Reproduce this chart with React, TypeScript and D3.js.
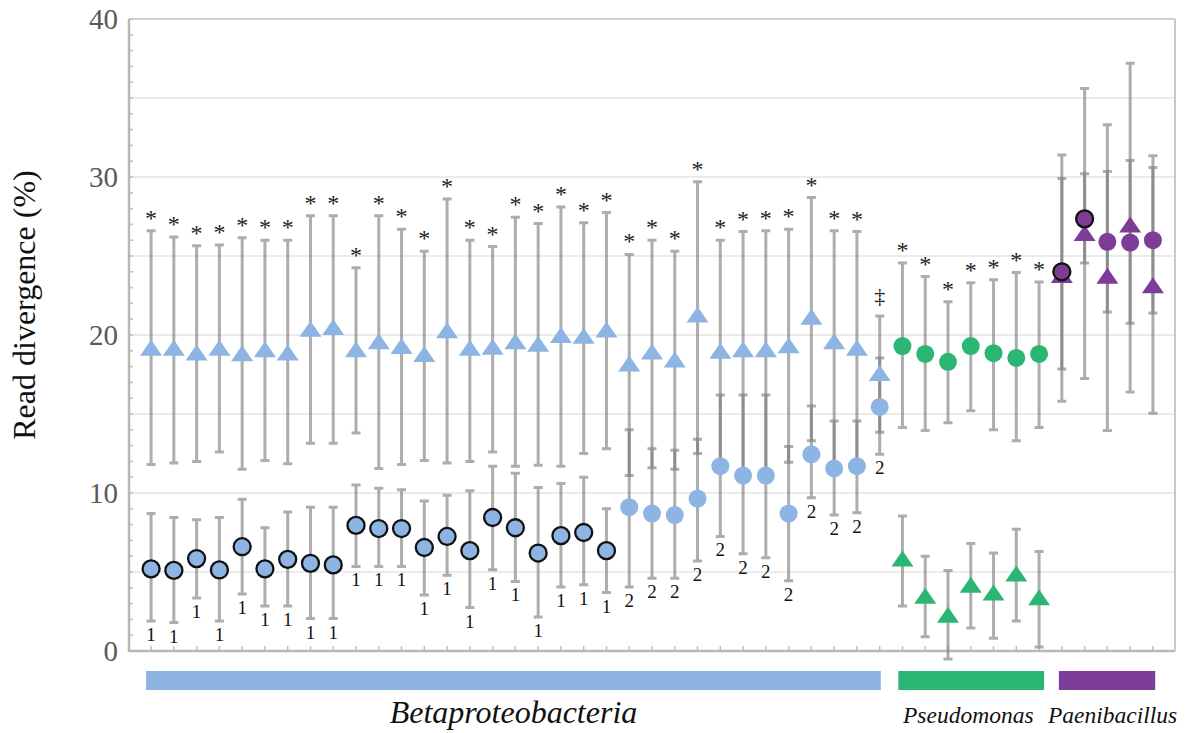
import React from "react";
import * as d3 from "d3";

// ---------- data ----------
// Betaproteobacteria (33 strains): triangle = upper series, circle = lower series
const betaTriMean = [19.2,19.2,18.9,19.2,18.85,19.1,18.9,20.4,20.5,19.1,19.6,19.3,18.8,20.3,19.2,19.25,19.6,19.45,20.0,19.95,20.35,18.2,18.95,18.45,21.3,19.0,19.1,19.1,19.35,21.15,19.6,19.2,17.6];
const betaTriHi = [26.6,26.2,25.65,25.7,26.15,26.0,26.0,27.55,27.55,24.25,27.55,26.7,25.3,28.6,26.0,25.6,27.45,27.05,28.1,27.1,27.75,25.1,26.0,25.3,29.7,26.0,26.55,26.6,26.7,28.7,26.6,26.55,21.2];
const betaTriLo = [11.8,11.9,12.0,12.6,11.5,12.05,11.85,13.15,13.15,13.8,11.55,11.8,12.05,11.9,12.0,12.6,11.7,11.75,11.7,12.5,12.8,11.1,11.6,11.5,12.5,11.8,11.2,11.2,11.95,13.3,11.8,11.9,13.85];
const betaCirMean = [5.2,5.1,5.85,5.13,6.6,5.2,5.8,5.55,5.45,7.95,7.75,7.75,6.55,7.25,6.35,8.45,7.8,6.2,7.3,7.5,6.35,9.1,8.7,8.6,9.65,11.7,11.1,11.1,8.7,12.45,11.55,11.7,15.45];
const betaCirHi = [8.7,8.45,8.3,8.45,9.6,7.8,8.8,9.1,9.1,10.5,10.3,10.2,9.5,9.85,10.15,11.7,11.25,10.35,10.6,11.0,9.0,14.0,12.8,12.7,13.4,16.2,16.2,16.2,12.95,15.5,14.55,14.55,18.55];
const betaCirLo = [1.9,1.8,3.35,1.9,3.6,2.85,2.85,2.05,2.05,5.35,5.35,5.35,3.55,4.8,2.75,5.15,4.4,2.15,4.05,4.2,3.7,4.05,4.6,4.6,5.7,7.25,6.15,5.9,4.45,9.7,8.6,8.75,12.45];
const betaTopMark = ["*","*","*","*","*","*","*","*","*","*","*","*","*","*","*","*","*","*","*","*","*","*","*","*","*","*","*","*","*","*","*","*","‡"];
const betaBottomMark = ["1","1","1","1","1","1","1","1","1","1","1","1","1","1","1","1","1","1","1","1","1","2","2","2","2","2","2","2","2","2","2","2","2"];
const betaOutlined = [true,true,true,true,true,true,true,true,true,true,true,true,true,true,true,true,true,true,true,true,true,false,false,false,false,false,false,false,false,false,false,false,false];

// Pseudomonas (7 strains): circle = upper series, triangle = lower series
const pseuCirMean = [19.3,18.8,18.3,19.3,18.85,18.55,18.8];
const pseuCirHi = [24.55,23.7,22.1,23.3,23.5,23.95,23.35];
const pseuCirLo = [14.15,13.95,14.45,15.2,14.0,13.3,14.15];
const pseuTriMean = [5.85,3.5,2.3,4.2,3.7,4.9,3.4];
const pseuTriHi = [8.55,6.0,5.1,6.8,6.2,7.7,6.3];
const pseuTriLo = [2.85,0.9,-0.5,1.45,0.8,1.9,0.25];
const pseuTopMark = ["*","*","*","*","*","*","*"];

// Paenibacillus (5 strains)
const paenCirMean = [24.0,27.35,25.9,25.85,26.0];
const paenCirHi = [31.4,35.6,33.3,37.2,31.35];
const paenCirLo = [17.85,24.55,21.45,16.4,21.4];
const paenTriMean = [23.8,26.45,23.75,27.0,23.15];
const paenTriHi = [29.9,30.2,30.35,31.05,30.6];
const paenTriLo = [15.8,17.25,13.95,20.75,15.05];
const paenOutlined = [true,true,false,false,false];

const yTicks = [0, 10, 20, 30, 40];
const groupNames = ["Betaproteobacteria", "Pseudomonas", "Paenibacillus"];

// ---------- colours ----------
const BLUE = "#8db4e2";
const GREEN = "#2bb673";
const PURPLE = "#7d3c98";

type Pt = { i: number; mean: number; hi: number; lo: number; color: string; shape: "tri" | "cir"; outlined: boolean };

const SERIF = "'Liberation Serif', 'Times New Roman', 'DejaVu Serif', serif";

export default function App() {
  const W = 1187, H = 733;
  const left = 129, right = 1175, top = 19, bottom = 651;
  const nBeta = betaTriMean.length, nPseu = pseuCirMean.length, nPaen = paenCirMean.length;
  const n = nBeta + nPseu + nPaen;
  const x = d3.scalePoint<number>().domain(d3.range(n)).range([left, right]).padding(0.97);
  const y = d3.scaleLinear().domain([0, 40]).range([bottom, top]);

  const pts: Pt[] = [];
  betaTriMean.forEach((m, k) => pts.push({ i: k, mean: m, hi: betaTriHi[k], lo: betaTriLo[k], color: BLUE, shape: "tri", outlined: false }));
  betaCirMean.forEach((m, k) => pts.push({ i: k, mean: m, hi: betaCirHi[k], lo: betaCirLo[k], color: BLUE, shape: "cir", outlined: betaOutlined[k] }));
  pseuCirMean.forEach((m, k) => pts.push({ i: nBeta + k, mean: m, hi: pseuCirHi[k], lo: pseuCirLo[k], color: GREEN, shape: "cir", outlined: false }));
  pseuTriMean.forEach((m, k) => pts.push({ i: nBeta + k, mean: m, hi: pseuTriHi[k], lo: pseuTriLo[k], color: GREEN, shape: "tri", outlined: false }));
  paenTriMean.forEach((m, k) => pts.push({ i: nBeta + nPseu + k, mean: m, hi: paenTriHi[k], lo: paenTriLo[k], color: PURPLE, shape: "tri", outlined: false }));
  paenCirMean.forEach((m, k) => pts.push({ i: nBeta + nPseu + k, mean: m, hi: paenCirHi[k], lo: paenCirLo[k], color: PURPLE, shape: "cir", outlined: paenOutlined[k] }));

  const capW = 4.5;
  const errPath = (p: Pt) => {
    const cx = x(p.i)!;
    const y1 = y(p.hi), y2 = y(p.lo);
    return `M${cx},${y1}V${y2}M${cx - capW},${y1}H${cx + capW}M${cx - capW},${y2}H${cx + capW}`;
  };
  const triPath = (cx: number, cy: number) => {
    const hw = 11, hh = 8;
    return `M${cx},${cy - hh}L${cx + hw},${cy + hh}L${cx - hw},${cy + hh}Z`;
  };

  const gridVals = d3.range(5, 40, 5);
  const minorVals = d3.range(0, 41, 1);

  const topMarks = [
    ...betaTopMark.map((t, k) => ({ i: k, t, v: betaTriHi[k] })),
    ...pseuTopMark.map((t, k) => ({ i: nBeta + k, t, v: pseuCirHi[k] })),
  ];
  const bottomMarks = betaBottomMark.map((t, k) => ({ i: k, t, v: betaCirLo[k] }));

  const step = x.step();
  const bands = [
    { name: groupNames[0], x0: x(0)! - 0.22 * step, x1: x(nBeta - 1)! + 0.05 * step, color: BLUE },
    { name: groupNames[1], x0: x(nBeta)! - 0.18 * step, x1: x(nBeta + nPseu - 1)! + 0.22 * step, color: GREEN },
    { name: groupNames[2], x0: x(nBeta + nPseu)! - 0.13 * step, x1: x(n - 1)! + 0.1 * step, color: PURPLE },
  ];

  const tStyle = { fontFamily: SERIF };

  return (
    <svg width={W} height={H} style={{ position: "absolute", left: 0, top: 0, background: "#fff", fontFamily: SERIF }}>
      {/* gridlines */}
      {gridVals.map((v) => (
        <line key={"g" + v} x1={left} x2={right} y1={y(v)} y2={y(v)} stroke="#ebebeb" strokeWidth={2} />
      ))}
      {/* frame */}
      <line x1={left} x2={right} y1={top} y2={top} stroke="#d0d0d0" strokeWidth={2} />
      <line x1={right} x2={right} y1={top} y2={bottom} stroke="#c8c8c8" strokeWidth={2} />
      {/* minor y ticks */}
      {minorVals.map((v) => (
        <line key={"m" + v} x1={left} x2={left + 4} y1={y(v)} y2={y(v)} stroke="#c0c0c0" strokeWidth={1.5} />
      ))}
      {/* x ticks */}
      {d3.range(n).map((i) => (
        <line key={"xt" + i} x1={x(i)!} x2={x(i)!} y1={bottom} y2={bottom - 5} stroke="#c0c0c0" strokeWidth={1.5} />
      ))}
      <line x1={left} x2={left} y1={top} y2={bottom + 1} stroke="#b8b8b8" strokeWidth={2.5} />
      <line x1={left} x2={right} y1={bottom} y2={bottom} stroke="#b8b8b8" strokeWidth={2.5} />

      {/* y tick labels */}
      {yTicks.map((v) => (
        <text key={"yl" + v} x={118} y={y(v)} dy="0.35em" textAnchor="end" fontSize={29} fill="#595959" style={tStyle}>
          {v}
        </text>
      ))}
      <text transform={`translate(35,305) rotate(-90)`} textAnchor="middle" fontSize={32} fill="#111" style={tStyle}>
        Read divergence (%)
      </text>

      {/* error bars */}
      {pts.map((p, k) => (
        <path key={"e" + k} d={errPath(p)} stroke="#7a7a7a" strokeOpacity={0.62} strokeWidth={3} fill="none" />
      ))}
      {/* markers: triangles first, then circles */}
      {pts.filter((p) => p.shape === "tri").map((p, k) => (
        <path key={"t" + k} d={triPath(x(p.i)!, y(p.mean))} fill={p.color} />
      ))}
      {pts.filter((p) => p.shape === "cir").map((p, k) => (
        <circle
          key={"c" + k}
          cx={x(p.i)!}
          cy={y(p.mean)}
          r={p.outlined ? 8.5 : 9}
          fill={p.color}
          stroke={p.outlined ? "#111" : "none"}
          strokeWidth={p.outlined ? 2.3 : 0}
        />
      ))}

      {/* significance marks */}
      {topMarks.map((m) => (
        <text key={"tm" + m.i} x={x(m.i)!} y={y(m.v) - (m.t === "‡" ? 13 : 5)} textAnchor="middle" fontSize={m.t === "‡" ? 22 : 24} fill="#222" style={tStyle}>
          {m.t}
        </text>
      ))}
      {bottomMarks.map((m) => (
        <text key={"bm" + m.i} x={x(m.i)!} y={y(m.v) + 20} textAnchor="middle" fontSize={19} fill="#111" style={tStyle}>
          {m.t}
        </text>
      ))}

      {/* group bars */}
      {bands.map((b) => (
        <rect key={b.name} x={b.x0} y={671} width={b.x1 - b.x0} height={19} fill={b.color} />
      ))}
      <text x={(bands[0].x0 + bands[0].x1) / 2} y={723} textAnchor="middle" fontSize={32} fontStyle="italic" fill="#111" style={tStyle}>
        {groupNames[0]}
      </text>
      <text x={903} y={723} fontSize={23.5} fontStyle="italic" fill="#111" style={tStyle}>
        {groupNames[1]}
      </text>
      <text x={1048} y={723} fontSize={23.5} fontStyle="italic" fill="#111" style={tStyle}>
        {groupNames[2]}
      </text>
    </svg>
  );
}
